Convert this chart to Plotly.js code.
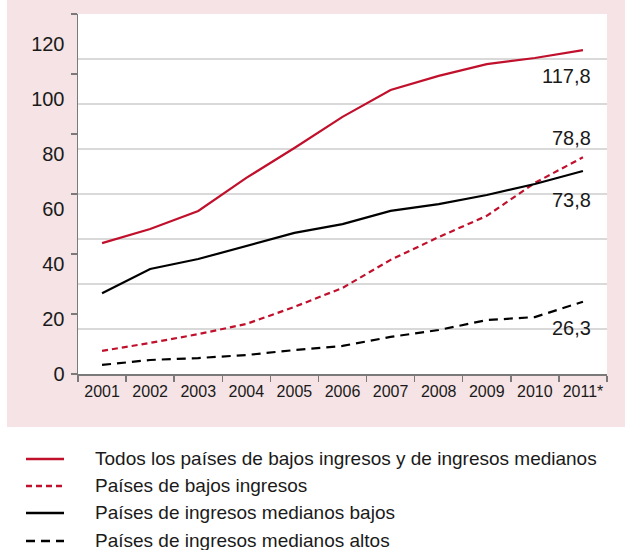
<!DOCTYPE html>
<html>
<head>
<meta charset="utf-8">
<script src="https://cdn.plot.ly/plotly-3.0.1.min.js"></script>
<style>html,body{margin:0;padding:0;background:#fff;}#chart{width:625px;height:550px;}</style>
</head>
<body>
<div id="chart"></div>
<script>
// ---- data ----
const years = ['2001','2002','2003','2004','2005','2006','2007','2008','2009','2010','2011*'];
const todos      = [47.6, 52.7, 59.3, 71.3, 82.2, 93.5, 103.3, 108.4, 112.7, 114.9, 117.8];
const bajos      = [8.4, 11.3, 14.5, 18.2, 24.4, 31.3, 41.5, 49.8, 57.5, 69.5, 78.8];
const medBajos   = [29.4, 38.2, 41.8, 46.5, 51.3, 54.5, 59.3, 61.8, 65.1, 69.1, 73.8];
const medAltos   = [3.3, 5.1, 5.8, 6.9, 8.7, 10.2, 13.5, 16.0, 19.6, 20.7, 26.3];
const seriesNames = [
  'Todos los países de bajos ingresos y de ingresos medianos',
  'Países de bajos ingresos',
  'Países de ingresos medianos bajos',
  'Países de ingresos medianos altos'
];
const yTickVals = [0, 20, 40, 60, 80, 100, 120];
const yTickText = ['0', '20', '40', '60', '80', '100', '120'];

// ---- styling ----
const RED = '#c0102c';
const BLK = '#000000';
const FONT = '"Liberation Sans", Arial, sans-serif';
const TXT = '#1a1a1a';
const AXC = '#7a7a7a';

const W = 625, H = 550, ML = 78, MR = 18, MT = 14, MB = 176;
const PW = W - ML - MR, PH = H - MT - MB;
const px2x = p => (p - ML) / PW;
const py2y = p => (H - MB - p) / PH;

const lw = 2.2;
const styles = [
  {color: RED, width: lw, dash: 'solid'},
  {color: RED, width: lw, dash: '6px,4px'},
  {color: BLK, width: lw, dash: 'solid'},
  {color: BLK, width: lw, dash: '9px,6px'}
];
const seriesData = [todos, bajos, medBajos, medAltos];

const traces = seriesData.map((d, i) => ({
  x: years, y: d, name: seriesNames[i], mode: 'lines', line: styles[i], showlegend: false
}));
traces.push({x: [], y: [], yaxis: 'y2', showlegend: false, hoverinfo: 'skip'});
traces.push({x: [], y: [], yaxis: 'y3', showlegend: false, hoverinfo: 'skip'});

const fmt = v => v.toFixed(1).replace('.', ',');
const last = years[years.length - 1];
const endShift = [-26, 19, -29, -26];
const annotations = seriesData.map((d, i) => ({
  x: last, y: d[d.length - 1], xref: 'x', yref: 'y', text: fmt(d[d.length - 1]), showarrow: false,
  xanchor: 'right', yanchor: 'middle', xshift: 10, yshift: endShift[i],
  font: {family: FONT, size: 20, color: TXT}
}));

// manual legend (below the chart panel)
const legRows = [459, 486, 513, 541];
const shapes = [
  {type: 'rect', xref: 'paper', yref: 'paper', x0: px2x(7), x1: px2x(630), y0: py2y(427), y1: py2y(-5),
   fillcolor: '#f5e3e5', line: {width: 0}, layer: 'below'},
  {type: 'rect', xref: 'paper', yref: 'paper', x0: 0, x1: 1, y0: 0, y1: 1,
   fillcolor: '#ffffff', line: {width: 0}, layer: 'below'}
];
seriesNames.forEach((n, i) => {
  shapes.push({type: 'line', xref: 'paper', yref: 'paper',
    x0: px2x(26), x1: px2x(64), y0: py2y(legRows[i]), y1: py2y(legRows[i]),
    line: {color: styles[i].color, width: 2.6, dash: styles[i].dash}});
  annotations.push({xref: 'paper', yref: 'paper', x: px2x(93), y: py2y(legRows[i] - 1),
    xanchor: 'left', yanchor: 'middle', showarrow: false, text: n,
    font: {family: FONT, size: 19, color: TXT}});
});

const layout = {
  width: W, height: H,
  margin: {l: ML, r: MR, t: MT, b: MB, pad: 0, autoexpand: false},
  paper_bgcolor: '#ffffff',
  plot_bgcolor: '#ffffff',
  showlegend: false,
  font: {family: FONT, color: TXT},
  xaxis: {
    type: 'category', categoryorder: 'array', categoryarray: years,
    range: [-0.5, years.length - 0.5],
    tickson: 'boundaries', ticks: 'outside', ticklen: 6, tickcolor: AXC, tickwidth: 1.5,
    showline: true, linecolor: AXC, linewidth: 1.5,
    showgrid: false, zeroline: false, tickangle: 0, automargin: false,
    ticklabelstandoff: 2,
    tickfont: {family: FONT, size: 16, color: TXT},
    fixedrange: true
  },
  yaxis: {
    range: [0, PH / 2.75],
    tickvals: yTickVals, ticktext: yTickText,
    ticks: '', showgrid: false, zeroline: false,
    showline: true, linecolor: AXC, linewidth: 1.5,
    ticklabelstandoff: 8, automargin: false,
    tickfont: {family: FONT, size: 20, color: TXT},
    fixedrange: true
  },
  yaxis2: {
    overlaying: 'y', range: [0, 8], dtick: 1, tick0: 0,
    showgrid: true, gridcolor: '#d9d9d9', gridwidth: 1.5,
    showticklabels: false, ticks: '', zeroline: false, showline: false,
    fixedrange: true
  },
  yaxis3: {
    overlaying: 'y', range: [0, 6], dtick: 1, tick0: 0,
    showgrid: false, showticklabels: false, zeroline: false, showline: false,
    ticks: 'outside', ticklen: 6, tickcolor: AXC, tickwidth: 1.5,
    fixedrange: true
  },
  shapes: shapes,
  annotations: annotations
};

Plotly.newPlot('chart', traces, layout, {displayModeBar: false, staticPlot: true});
</script>
</body>
</html>
